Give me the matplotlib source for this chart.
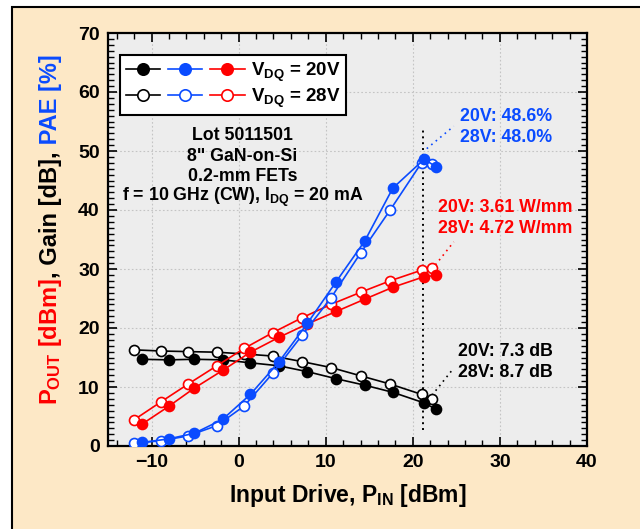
import matplotlib
matplotlib.use("Agg")
import matplotlib.pyplot as plt
from matplotlib.lines import Line2D
from matplotlib.patches import Rectangle
from matplotlib.legend_handler import HandlerTuple
from matplotlib.ticker import MultipleLocator

plt.rcParams['font.family'] = ['Liberation Sans', 'DejaVu Sans']
plt.rcParams['font.weight'] = 'bold'
plt.rcParams['mathtext.fontset'] = 'custom'
plt.rcParams['mathtext.rm'] = 'Liberation Sans:bold'
plt.rcParams['mathtext.it'] = 'Liberation Sans:bold'
plt.rcParams['mathtext.bf'] = 'Liberation Sans:bold'

# --- data ---
pin_20 = [-11.1, -8.05, -5.1, -1.85, 1.35, 4.6, 7.9, 11.2, 14.5, 17.7, 21.3, 22.7]
pin_28 = [-12.05, -8.9, -5.85, -2.5, 0.65, 3.9, 7.3, 10.6, 14.0, 17.4, 21.0, 22.2]

gain_20 = [14.7, 14.6, 14.7, 14.6, 14.1, 13.6, 12.6, 11.4, 10.3, 9.1, 7.3, 6.2]
gain_28 = [16.3, 16.1, 16.0, 15.9, 15.6, 15.25, 14.3, 13.3, 11.9, 10.5, 8.75, 7.9]

pout_20 = [3.7, 6.7, 9.8, 12.8, 15.9, 18.4, 20.7, 22.8, 24.9, 26.9, 28.7, 28.9]
pout_28 = [4.4, 7.5, 10.45, 13.6, 16.55, 19.2, 21.75, 24.0, 26.05, 28.0, 29.8, 30.2]

pae_20 = [0.6, 1.2, 2.15, 4.5, 8.75, 14.2, 20.8, 27.85, 34.8, 43.7, 48.6, 47.3]
pae_28 = [0.45, 0.9, 1.7, 3.45, 6.8, 12.3, 18.8, 25.1, 32.7, 40.0, 48.0, 47.8]

legend_labels = [r'V$_\mathrm{DQ}$ = 20V', r'V$_\mathrm{DQ}$ = 28V']
info_lines = ['Lot 5011501', '8" GaN-on-Si', '0.2-mm FETs',
              r'f = 10 GHz (CW), I$_\mathrm{DQ}$ = 20 mA']

BLACK, BLUE, RED = '#000000', '#0A4BFF', '#FF0000'
PEACH, PANEL = '#FDE8C6', '#EDEDED'

fig = plt.figure(figsize=(6.4, 5.29), dpi=100, facecolor='white')
# peach background with border on top/left
fig.patches.append(Rectangle((12 / 640, -0.1), 1.2, 1.1 - 7 / 529, transform=fig.transFigure,
                             facecolor=PEACH, edgecolor='black', linewidth=1.5, zorder=-10))

ax = fig.add_axes([108 / 640, 1 - 446 / 529, (587 - 108) / 640, (446 - 33) / 529])
ax.set_facecolor(PANEL)


def curve(x, y, c, filled):
    ax.plot(x, y, color=c, lw=1.2, marker='o', ms=7.2,
            mfc=c if filled else 'white', mec=c, mew=1.2, zorder=3)


curve(pin_28, gain_28, BLACK, False)
curve(pin_20, gain_20, BLACK, True)
curve(pin_28, pout_28, RED, False)
curve(pin_20, pout_20, RED, True)
curve(pin_28, pae_28, BLUE, False)
curve(pin_20, pae_20, BLUE, True)

ax.set_xlim(-15, 40)
ax.set_ylim(0, 70)
ax.xaxis.set_major_locator(MultipleLocator(10))
ax.xaxis.set_minor_locator(MultipleLocator(2))
ax.yaxis.set_major_locator(MultipleLocator(10))
ax.yaxis.set_minor_locator(MultipleLocator(1))
ax.tick_params(which='both', direction='in', top=True, right=True, labelsize=14, pad=6)
ax.tick_params(which='major', length=6.5, width=1.2)
ax.tick_params(which='minor', length=4.3, width=1.0)
for lab in ax.get_xticklabels() + ax.get_yticklabels():
    lab.set_fontweight('bold')
for sp in ax.spines.values():
    sp.set_linewidth(1.6)
ax.grid(which='major', color='#c4c4c4', linestyle=(0, (1.5, 2)), linewidth=0.8)
ax.set_axisbelow(True)

ax.set_xlabel(r'Input Drive, P$_\mathrm{IN}$ [dBm]', fontsize=16.5, fontweight='bold', labelpad=8)

# guide lines
ax.plot([21.2, 21.2], [2.7, 54], color=BLACK, lw=1.4, linestyle=(0, (1, 2)), zorder=2)
ax.plot([21.6, 24.7], [50.4, 54.2], color=BLUE, lw=1.2, linestyle=(0, (1, 2.5)), zorder=2)
ax.plot([22.6, 24.7], [30.7, 34.6], color=RED, lw=1.2, linestyle=(0, (1, 2.5)), zorder=2)
ax.plot([22.2, 24.7], [8.6, 13.2], color=BLACK, lw=1.2, linestyle=(0, (1, 2.5)), zorder=2)

ann = dict(fontsize=12.8, fontweight='bold', ha='left', va='center', linespacing=1.3)
ax.text(25.4, 54.1, '20V: 48.6%\n28V: 48.0%', color=BLUE, **ann)
ax.text(22.9, 38.65, '20V: 3.61 W/mm\n28V: 4.72 W/mm', color=RED, **ann)
ax.text(25.2, 14.25, '20V: 7.3 dB\n28V: 8.7 dB', color=BLACK, **ann)

for yv, s in zip([52.7, 49.0, 45.6, 42.2], info_lines):
    ax.text(0.45, yv, s, fontsize=12.8, fontweight='bold', ha='center', va='center')

# legend with three symbols per row
def lh(c, filled):
    return Line2D([], [], color=c, lw=1.2, marker='o', ms=8.2,
                  mfc=c if filled else 'white', mec=c, mew=1.2)


handles = [(lh(BLACK, True), lh(BLUE, True), lh(RED, True)),
           (lh(BLACK, False), lh(BLUE, False), lh(RED, False))]
leg = ax.legend(handles, legend_labels, handler_map={tuple: HandlerTuple(ndivide=None, pad=0.4)},
                handlelength=6.35, loc='upper left', bbox_to_anchor=(0.025, 0.947),
                borderaxespad=0, fancybox=False, framealpha=1, edgecolor='black',
                prop={'size': 13.5, 'weight': 'bold'}, handletextpad=0.35,
                labelspacing=0.15, borderpad=0.3)
leg.get_frame().set_linewidth(1.5)
leg.set_zorder(5)

# multi-colour y label, drawn piece by piece upward
renderer = fig.canvas.get_renderer()
pieces = [(r'P$_\mathrm{OUT}$ [dBm]', RED), (', Gain [dB],', BLACK), (' PAE [%]', BLUE)]
x0, y0 = 57 / 640, 1 - 405 / 529
for s, c in pieces:
    t = fig.text(x0, y0, s, color=c, fontsize=17, fontweight='bold', rotation=90,
                 rotation_mode='anchor', ha='left', va='baseline')
    bb = t.get_window_extent(renderer)
    y0 = bb.y1 / fig.bbox.height

fig.savefig('out.png', dpi=100, facecolor=fig.get_facecolor())
